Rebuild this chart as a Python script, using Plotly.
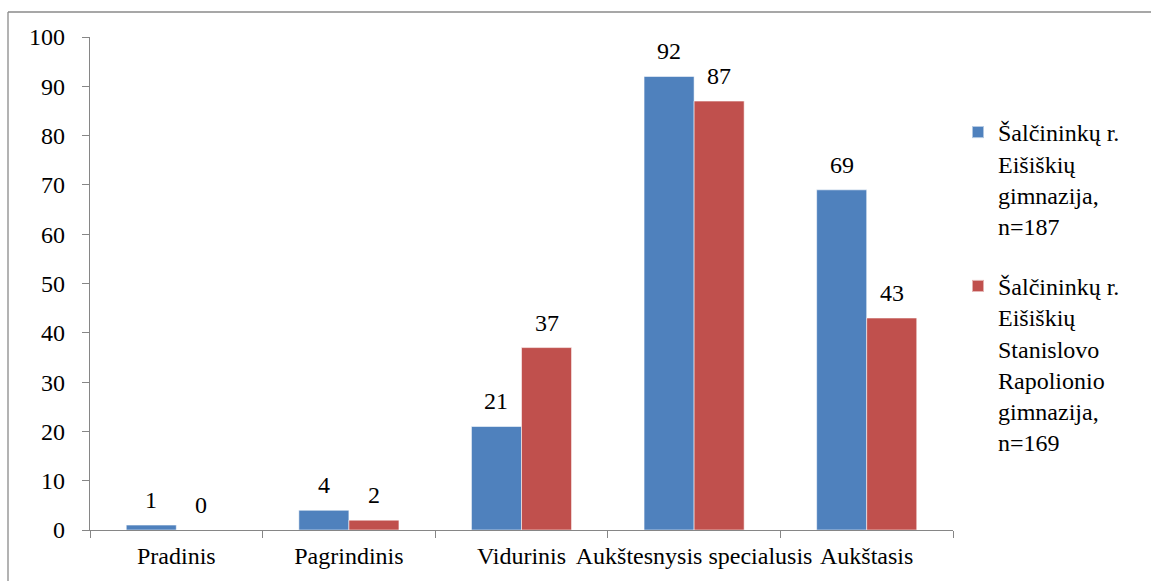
import plotly.graph_objects as go

categories = ["Pradinis", "Pagrindinis", "Vidurinis", "Aukštesnysis specialusis", "Aukštasis"]
series_names = [
    "Šalčininkų r.<br>Eišiškių<br>gimnazija,<br>n=187",
    "Šalčininkų r.<br>Eišiškių<br>Stanislovo<br>Rapolionio<br>gimnazija,<br>n=169",
]
values_a = [1, 4, 21, 92, 69]
values_b = [0, 2, 37, 87, 43]
colors = ["#4F81BD", "#C0504D"]
y_ticks = [0, 10, 20, 30, 40, 50, 60, 70, 80, 90, 100]

W, H = 1151, 581
L, R, T, B = 90, 198, 37, 51
FONT = "Liberation Serif"
FS = 24
BARGAP = 0.42
AXIS_COLOR = "#868686"

pw = W - L - R
ph = H - T - B


def px_x(p):
    return (p - L) / pw


def px_y(p):
    return (H - B - p) / ph


fig = go.Figure()
for i, (name, vals) in enumerate([(series_names[0], values_a), (series_names[1], values_b)]):
    fig.add_trace(go.Bar(
        x=categories, y=vals, name=name,
        marker=dict(color=colors[i], line=dict(color="rgba(255,255,255,0.55)", width=1)),
        legendgroup=f"g{i}",
    ))

# data labels above each bar
half = (1 - BARGAP) / 4
annotations = []
for i, vals in enumerate([values_a, values_b]):
    off = -half if i == 0 else half
    for j, v in enumerate(vals):
        annotations.append(dict(
            x=j + off, y=v, xref="x", yref="y", text=str(v), showarrow=False,
            yanchor="bottom", yshift=10,
            font=dict(family=FONT, size=FS, color="black"),
        ))

shapes = [
    dict(type="line", xref="paper", yref="paper", x0=px_x(8), x1=px_x(W + 5),
         y0=px_y(12), y1=px_y(12), line=dict(color="#8a8a8a", width=1.3)),
    dict(type="line", xref="paper", yref="paper", x0=px_x(8), x1=px_x(8),
         y0=px_y(12), y1=px_y(H + 5), line=dict(color="#8a8a8a", width=1.3)),
]

fig.update_layout(
    width=W, height=H,
    margin=dict(l=L, r=R, t=T, b=B, autoexpand=False),
    paper_bgcolor="white", plot_bgcolor="white",
    barmode="group", bargap=BARGAP, bargroupgap=0,
    font=dict(family=FONT, size=FS, color="black"),
    showlegend=True,
    legend=dict(
        x=px_x(958), xanchor="left", y=px_y(110), yanchor="top",
        font=dict(family=FONT, size=FS, color="black"),
        traceorder="grouped", tracegroupgap=26, valign="top",
        bgcolor="rgba(0,0,0,0)", itemsizing="constant",
    ),
    annotations=annotations,
    shapes=shapes,
)
fig.update_xaxes(
    type="category", showgrid=False, showline=True, linecolor=AXIS_COLOR, linewidth=1.3,
    ticks="outside", tickson="boundaries", ticklen=7, tickcolor=AXIS_COLOR, tickwidth=1.3,
    tickfont=dict(family=FONT, size=FS, color="black"), ticklabelstandoff=4, tickangle=0,
)
fig.update_yaxes(
    range=[0, 100], tickvals=y_ticks, showgrid=False, showline=True, linecolor=AXIS_COLOR,
    linewidth=1.3, ticks="outside", ticklen=7, tickcolor=AXIS_COLOR, tickwidth=1.3,
    tickfont=dict(family=FONT, size=FS, color="black"), ticklabelstandoff=12, zeroline=False,
)

fig.write_html(
    "out.html",
    config={"displayModeBar": False},
    post_script="document.body.style.margin='0';document.body.style.overflow='hidden';",
)
